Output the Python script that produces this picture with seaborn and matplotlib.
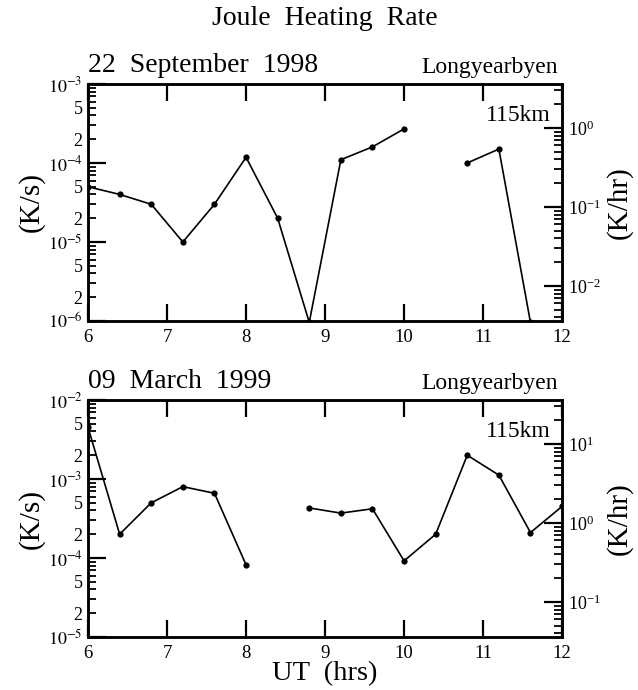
import numpy as np
import pandas as pd
import seaborn as sns
import matplotlib
matplotlib.use("Agg")
import matplotlib.pyplot as plt
import matplotlib.ticker as ticker

# UT hours (every 0.4 h) and heating rates in K/s, None = no data
ut = [6.0, 6.4, 6.8, 7.2, 7.6, 8.0, 8.4, 8.8, 9.2, 9.6, 10.0, 10.4, 10.8, 11.2, 11.6, 12.0]
sep98 = [5.0e-5, 4.0e-5, 3.0e-5, 1.0e-5, 3.0e-5, 1.18e-4, 2.0e-5, 9.6e-7,
         1.1e-4, 1.6e-4, 2.7e-4, None, 1.0e-4, 1.5e-4, 9.6e-7, None]
mar99 = [4.5e-3, 2.0e-4, 5.0e-4, 8.0e-4, 6.6e-4, 8.2e-5, None, 4.3e-4,
         3.7e-4, 4.2e-4, 9.2e-5, 2.0e-4, 2.0e-3, 1.12e-3, 2.1e-4, 4.5e-4]

panels = [
    ("22  September  1998", sep98, (1e-6, 1e-3)),
    ("09  March  1999", mar99, (1e-5, 1e-2)),
]

sns.set_theme(style="ticks")
plt.rcParams['font.family'] = ['Liberation Serif', 'DejaVu Serif']
plt.rcParams['mathtext.fontset'] = 'stix'
# plain black like the original, seaborn defaults to dark grey
for k in ['text.color', 'axes.labelcolor', 'axes.edgecolor', 'xtick.color', 'ytick.color']:
    plt.rcParams[k] = 'black'

fig = plt.figure(figsize=(6.38, 6.90), dpi=100)
bottoms = [0.5348, 0.0768]
W, H, L = 0.743, 0.3435, 0.138


def tidy(df_vals):
    df = pd.DataFrame({'ut': ut, 'rate': df_vals})
    df['rate'] = df['rate'].astype(float)
    df['seg'] = df['rate'].isna().cumsum()  # breaks line where data missing
    return df.dropna()


def lbl(v, pos):
    e = int(np.floor(np.log10(v) + 1e-9))
    m = v / 10.0 ** e
    if np.isclose(m, 1):
        return r'$10^{%d}$' % e
    if np.isclose(m, 2) or np.isclose(m, 5):
        return '%d' % round(m)
    return ''


for (date, vals, ylim), b in zip(panels, bottoms):
    ax = fig.add_axes([L, b, W, H])
    sns.lineplot(data=tidy(vals), x='ut', y='rate', units='seg', estimator=None,
                 color='black', lw=1.2, marker='o', markersize=4.5,
                 markeredgewidth=0, ax=ax, legend=False)
    ax.set_yscale('log')
    ax.set_xlim(6, 12)
    ax.set_ylim(*ylim)
    ax.set_xlabel('')
    ax.set_ylabel('(K/s)', fontsize=21, labelpad=2)
    ax.xaxis.set_major_locator(ticker.MultipleLocator(1))
    ax.yaxis.set_major_locator(ticker.LogLocator(base=10, numticks=10))
    ax.yaxis.set_minor_locator(ticker.LogLocator(base=10, subs=np.arange(2, 10), numticks=10))
    ax.yaxis.set_major_formatter(ticker.FuncFormatter(lbl))
    ax.yaxis.set_minor_formatter(ticker.FuncFormatter(lbl))
    ax.tick_params(axis='x', which='major', direction='in', length=12, width=1.6,
                   top=True, labelsize=13.5, pad=6)
    ax.tick_params(axis='y', which='major', direction='in', length=13, width=1.6,
                   labelsize=13, pad=4)
    ax.tick_params(axis='y', which='minor', direction='in', length=6, width=1.3,
                   labelsize=13, pad=4)
    for s in ax.spines.values():
        s.set_linewidth(1.8)
        s.set_visible(True)

    # right axis in K/hr
    ax2 = ax.twinx()
    ax2.set_yscale('log')
    ax2.set_ylim(ylim[0] * 3600, ylim[1] * 3600)
    ax2.yaxis.set_major_locator(ticker.LogLocator(base=10, numticks=10))
    ax2.yaxis.set_minor_locator(ticker.LogLocator(base=10, subs=np.arange(2, 10), numticks=10))
    ax2.yaxis.set_minor_formatter(ticker.NullFormatter())
    ax2.yaxis.set_major_formatter(ticker.LogFormatterMathtext())
    ax2.tick_params(axis='y', which='major', direction='in', length=13, width=1.6,
                    labelsize=13, pad=4)
    ax2.tick_params(axis='y', which='minor', direction='in', length=6, width=1.3)
    ax2.set_ylabel('(K/hr)', fontsize=21, labelpad=4)
    for s in ax2.spines.values():
        s.set_linewidth(1.8)

    ax.text(0.0, 1.025, date, transform=ax.transAxes, ha='left', va='bottom', fontsize=20)
    ax.text(0.992, 1.025, 'Longyearbyen', transform=ax.transAxes, ha='right',
            va='bottom', fontsize=17)
    ax.text(0.975, 0.845, '115km', transform=ax.transAxes, ha='right',
            va='baseline', fontsize=17)

fig.text(L + W / 2, 0.955, 'Joule  Heating  Rate', ha='center', va='bottom', fontsize=20)
fig.text(L + W / 2, 0.005, 'UT  (hrs)', ha='center', va='bottom', fontsize=20.5)

fig.savefig('out.png', dpi=100)
